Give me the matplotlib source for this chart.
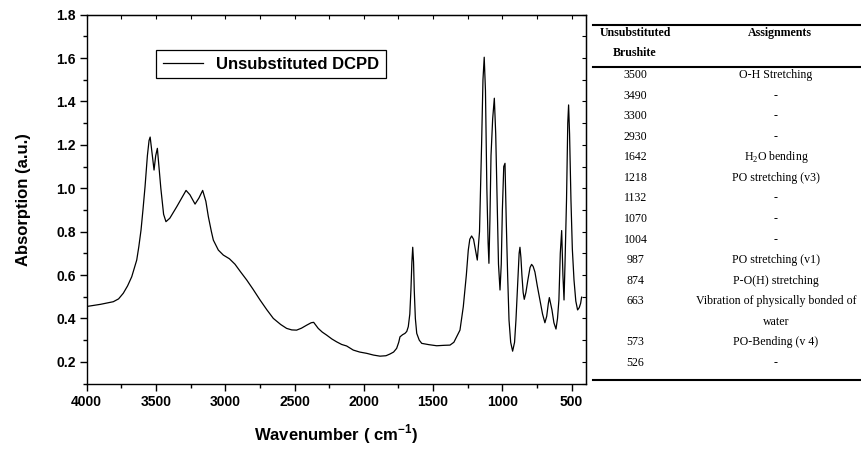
import matplotlib.pyplot as plt
from matplotlib.lines import Line2D
from matplotlib.ticker import MultipleLocator

# FTIR spectrum (wavenumber in cm-1, absorption a.u.)
wavenumber = [3990, 3900, 3808, 3770, 3736, 3705, 3675, 3639, 3624, 3608,
              3594, 3579, 3562, 3550, 3542, 3530, 3514, 3502, 3490, 3476,
              3465, 3445, 3428, 3400, 3350, 3310, 3283, 3255, 3218, 3190,
              3163, 3140, 3122, 3100, 3086, 3050, 3014, 2970, 2930, 2890,
              2845, 2800, 2749, 2700, 2653, 2600, 2557, 2520, 2485, 2450,
              2412, 2380, 2362, 2345, 2329, 2300, 2268, 2230, 2196, 2160,
              2124, 2076, 2030, 1979, 1930, 1883, 1840, 1811, 1785, 1763,
              1748, 1739, 1720, 1703, 1690, 1679, 1668, 1660, 1653, 1647,
              1641, 1636, 1628, 1618, 1600, 1582, 1530, 1474, 1420, 1378,
              1350, 1330, 1306, 1282, 1260, 1246, 1235, 1222, 1208, 1198,
              1181, 1165, 1150, 1140, 1131, 1122, 1112, 1103, 1097, 1090,
              1082, 1070, 1058, 1048, 1038, 1028, 1017, 1008, 1000, 990,
              981, 972, 962, 952, 940, 926, 912, 902, 888, 879,
              873, 866, 859, 850, 842, 830, 816, 800, 789, 778,
              765, 748, 729, 710, 693, 680, 668, 661, 652, 642,
              628, 613, 602, 592, 582, 572, 563, 555, 548, 537,
              528, 522, 515, 505, 495, 483, 470, 457, 445, 435,
              428]
absorbance = [0.456, 0.465, 0.477, 0.490, 0.516, 0.550, 0.592, 0.669, 0.730, 0.807,
              0.900, 1.007, 1.150, 1.220, 1.236, 1.170, 1.084, 1.150, 1.184, 1.080,
              1.000, 0.880, 0.846, 0.862, 0.915, 0.960, 0.990, 0.970, 0.927, 0.955,
              0.990, 0.940, 0.869, 0.800, 0.761, 0.715, 0.692, 0.675, 0.650, 0.615,
              0.577, 0.535, 0.485, 0.440, 0.400, 0.372, 0.354, 0.347, 0.346, 0.355,
              0.369, 0.380, 0.382, 0.368, 0.354, 0.337, 0.323, 0.305, 0.292, 0.280,
              0.273, 0.254, 0.245, 0.239, 0.231, 0.226, 0.228, 0.236, 0.245, 0.262,
              0.290, 0.315, 0.325, 0.331, 0.340, 0.362, 0.420, 0.531, 0.660, 0.728,
              0.660, 0.531, 0.400, 0.331, 0.300, 0.285, 0.279, 0.274, 0.276, 0.277,
              0.290, 0.315, 0.346, 0.454, 0.600, 0.715, 0.765, 0.780, 0.765, 0.730,
              0.669, 0.800, 1.200, 1.500, 1.604, 1.450, 1.000, 0.750, 0.654, 0.850,
              1.150, 1.320, 1.415, 1.250, 0.946, 0.650, 0.531, 0.650, 0.900, 1.100,
              1.115, 0.850, 0.600, 0.392, 0.290, 0.249, 0.290, 0.392, 0.577, 0.700,
              0.728, 0.680, 0.600, 0.520, 0.488, 0.520, 0.577, 0.635, 0.649, 0.640,
              0.614, 0.550, 0.485, 0.420, 0.380, 0.410, 0.470, 0.496, 0.470, 0.439,
              0.380, 0.351, 0.400, 0.485, 0.700, 0.805, 0.600, 0.485, 0.650, 0.946,
              1.300, 1.384, 1.250, 0.946, 0.720, 0.577, 0.480, 0.439, 0.450, 0.470,
              0.498]

# assignment table
table_header = [["Unsubstituted", "Brushite"], ["Assignments"]]
band_position = ["3500", "3490", "3300", "2930", "1642", "1218", "1132", "1070",
                 "1004", "987", "874", "663", "", "573", "526"]
band_assignment = ["O-H Stretching", "-", "-", "-", "H$_2$O bending",
                   "PO stretching (v3)", "-", "-", "-", "PO stretching (v1)",
                   "P-O(H) stretching", "Vibration of physically bonded of",
                   "water", "PO-Bending (v 4)", "-"]

plt.rcParams['font.family'] = 'Liberation Sans'
plt.rcParams['mathtext.fontset'] = 'custom'
plt.rcParams['mathtext.rm'] = 'Liberation Serif'
plt.rcParams['mathtext.bf'] = 'Liberation Sans:bold'

W, H = 862, 450
fig = plt.figure(figsize=(W / 100, H / 100), dpi=100)
ax = fig.add_axes([86.7 / W, 1 - 383.5 / H, 498.8 / W, 368.8 / H])

ax.plot(wavenumber, absorbance, color='black', lw=0.9, label='Unsubstituted DCPD')
ax.set_xlim(4000, 400)
ax.set_ylim(0.1, 1.8)

ax.xaxis.set_major_locator(MultipleLocator(500))
ax.xaxis.set_minor_locator(MultipleLocator(250))
ax.yaxis.set_minor_locator(MultipleLocator(0.1))
ax.set_yticks([0.2, 0.4, 0.6, 0.8, 1.0, 1.2, 1.4, 1.6, 1.8])
ax.tick_params(which='major', direction='out', length=5, width=1, labelsize=10, pad=3)
ax.tick_params(which='minor', direction='out', length=3, width=1)
for lab in ax.get_xticklabels() + ax.get_yticklabels():
    lab.set_fontweight('bold')
for sp in ax.spines.values():
    sp.set_linewidth(1.0)

# Origin-style inward ticks on top and right
top = ax.secondary_xaxis('top')
top.xaxis.set_major_locator(MultipleLocator(250))
top.tick_params(direction='in', length=3, width=0.8, labeltop=False)
right = ax.secondary_yaxis('right')
right.yaxis.set_major_locator(MultipleLocator(0.1))
right.tick_params(direction='in', length=3, width=0.8, labelright=False)

ax.set_xlabel('Wavenumber ( cm$^{\\mathbf{-1}}$)', fontsize=12, fontweight='bold', labelpad=10)
ax.set_ylabel('Absorption (a.u.)', fontsize=12, fontweight='bold', labelpad=18)

leg = ax.legend(loc='upper left', bbox_to_anchor=(0.139, 0.904), borderaxespad=0,
                fancybox=False, framealpha=1, edgecolor='black', handlelength=2.4,
                prop={'weight': 'bold', 'size': 12}, borderpad=0.4)
leg.get_frame().set_linewidth(0.9)

# table on the right
def fx(px):
    return px / W

def fy(py):
    return 1 - py / H

serif = {'family': 'Liberation Serif', 'size': 8.6}
fig.text(fx(635.5), fy(33.3), table_header[0][0], ha='center', va='center', weight='bold', **serif)
fig.text(fx(634.5), fy(53.3), table_header[0][1], ha='center', va='center', weight='bold', **serif)
fig.text(fx(780), fy(33.3), table_header[1][0], ha='center', va='center', weight='bold', **serif)

for i, (pos, asg) in enumerate(zip(band_position, band_assignment)):
    y = 75 + 20.57 * i
    fig.text(fx(635.5), fy(y), pos, ha='center', va='center', **serif)
    fig.text(fx(776), fy(y), asg, ha='center', va='center', **serif)

for py in [25, 66.7, 380]:
    fig.add_artist(Line2D([fx(593), 1], [fy(py), fy(py)], color='black', lw=1.5,
                          transform=fig.transFigure))

fig.savefig('out.png', dpi=100)
